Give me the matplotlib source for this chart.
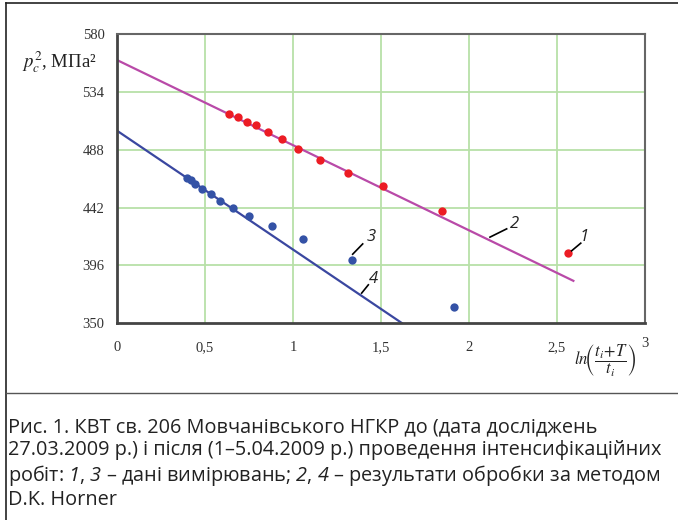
import matplotlib
matplotlib.use("Agg")
import matplotlib.pyplot as plt
from matplotlib.lines import Line2D

######################################################
# Data
######################################################

# 1 - measured data after treatment (red)
red_x = [0.638, 0.685, 0.736, 0.788, 0.856, 0.936, 1.030, 1.153, 1.315, 1.509, 1.845, 2.565]
red_y = [516.3, 514.4, 510.4, 507.5, 502.0, 496.4, 488.9, 480.0, 469.8, 459.2, 439.3, 405.6]

# 3 - measured data before treatment (blue)
blue_x = [0.396, 0.418, 0.446, 0.484, 0.532, 0.587, 0.659, 0.752, 0.879, 1.055, 1.333, 1.915]
blue_y = [465.3, 464.0, 460.8, 456.8, 452.8, 447.3, 441.5, 435.6, 427.6, 416.8, 400.3, 362.6]

# 2, 4 - Horner straight lines (end points)
fit2_x = [0.0, 2.593]
fit2_y = [559.5, 383.6]
fit4_x = [0.0, 1.618]
fit4_y = [503.2, 350.0]

xticks = [0, 0.5, 1, 1.5, 2, 2.5, 3]
xtick_labels = ["0", "0,5", "1", "1,5", "2", "2,5", "3"]
yticks = [350, 396, 442, 488, 534, 580]

# italic digits go through the \mathsf slot (mapped to Open Sans italic)
caption = ("Рис. 1. КВТ св. 206 Мовчанівського НГКР до (дата досліджень\n"
           "27.03.2009 р.) і після (1–5.04.2009 р.) проведення інтенсифікаційних\n"
           "робіт: $\\mathsf{1}$, $\\mathsf{3}$ – дані вимірювань; $\\mathsf{2}$, $\\mathsf{4}$ – результати обробки за методом\n"
           "D.K. Horner")

######################################################
# Plot
######################################################

plt.rcParams["mathtext.fontset"] = "stix"
# used only by the caption (math_fontfamily="custom")
plt.rcParams["mathtext.sf"] = "Open Sans:italic"
plt.rcParams["mathtext.rm"] = "Open Sans"

W, H = 678, 520
fig = plt.figure(figsize=(W / 100, H / 100), dpi=100)
ax = fig.add_axes([117 / W, 1 - 323 / H, (645 - 117) / W, (323 - 34.3) / H])

grid_col = "#b8e0a8"
for v in xticks[1:-1]:
    ax.axvline(v, color=grid_col, lw=1.3, zorder=1)
for v in yticks[1:-1]:
    ax.axhline(v, color=grid_col, lw=1.3, zorder=1)

ax.plot(fit2_x, fit2_y, color="#b94aa8", lw=1.6, zorder=2)
ax.plot(fit4_x, fit4_y, color="#3a47a0", lw=1.6, zorder=2)
ax.plot(red_x, red_y, "o", color="#ec1c24", ms=6, mec="none", zorder=3)
ax.plot(blue_x, blue_y, "o", color="#3452a6", ms=6, mec="none", zorder=3)

ax.set_xlim(0, 3)
ax.set_ylim(350, 580)
ax.set_xticks(xticks)
ax.set_xticklabels(xtick_labels)
ax.set_yticks(yticks)
ax.tick_params(length=0, labelsize=10.5, colors="#333333")
ax.tick_params(axis="x", pad=13)
ax.tick_params(axis="y", pad=9)
for lab in ax.get_xticklabels() + ax.get_yticklabels():
    lab.set_family("Liberation Serif")
ax.get_xticklabels()[-1].set_y(0.014)
ax.get_xticklabels()[-1].set_x(3.025)

for side in ["left", "bottom"]:
    ax.spines[side].set_linewidth(2)
    ax.spines[side].set_color("#444444")
for side in ["top", "right"]:
    ax.spines[side].set_linewidth(1.5)
    ax.spines[side].set_color("#666666")

# curve labels with leader lines
labels = [("1", (2.583, 407.5), (2.635, 413.6), (2.655, 418.9)),
          ("2", (2.119, 418.4), (2.214, 425.0), (2.261, 428.7)),
          ("3", (1.339, 404.8), (1.396, 413.0), (1.447, 418.9)),
          ("4", (1.390, 373.8), (1.428, 380.4), (1.457, 384.9))]
for txt, p0, p1, pt in labels:
    ax.plot([p0[0], p1[0]], [p0[1], p1[1]], color="black", lw=1.2, zorder=4)
    ax.text(pt[0], pt[1], txt, fontsize=12, style="italic", family="Open Sans",
            color="#222222", ha="center", va="center", zorder=4)

# axis labels
fig.text(22 / W, 1 - 62 / H, "$p_c^2$, МПа²", fontsize=13.5, family="Liberation Serif",
         color="#222222", ha="left", va="center")
fig.text(605 / W, 1 - 361 / H,
         r"$\mathit{ln}\!\left(\dfrac{\mathit{t_i\!+\!T}}{\mathit{t_i}}\right)$",
         fontsize=12, color="#222222", ha="center", va="center")

# outer frame and separator
fig.add_artist(Line2D([5.5 / W, 5.5 / W], [0, 1 - 3.3 / H], color="#222222", lw=1.2))
fig.add_artist(Line2D([5.5 / W, 1], [1 - 3.3 / H, 1 - 3.3 / H], color="#222222", lw=1.2))
fig.add_artist(Line2D([5.5 / W, 1], [1 - 393 / H, 1 - 393 / H], color="#555555", lw=1.0))

fig.text(8 / W, 1 - 417 / H, caption, fontsize=14.3, family="Open Sans",
         math_fontfamily="custom", color="#222222", ha="left", va="top",
         linespacing=1.17)

fig.savefig("out.png", dpi=100)
